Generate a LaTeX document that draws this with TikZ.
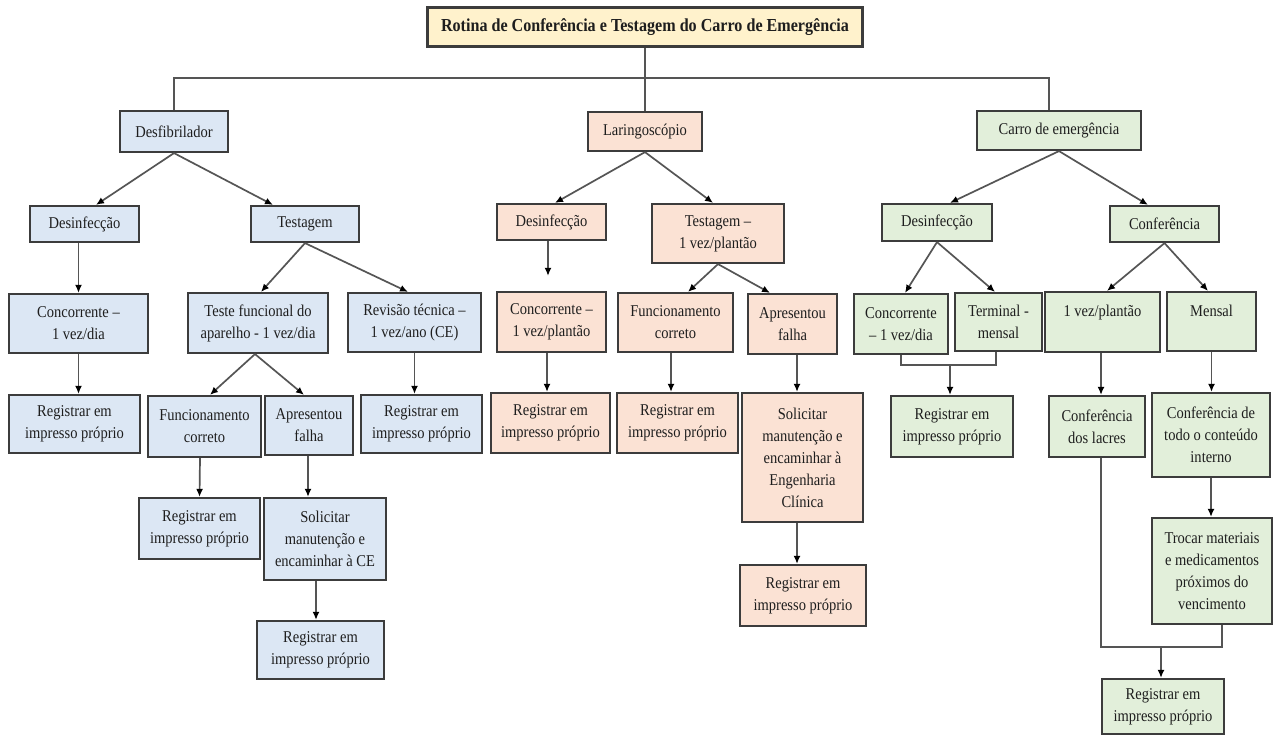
\documentclass[tikz,border=0pt]{standalone}
\usepackage{fontspec}
\setmainfont{Liberation Serif}[FakeStretch=0.88]
\usetikzlibrary{arrows.meta}
\definecolor{bluef}{HTML}{DCE7F4}
\definecolor{peachf}{HTML}{FBE2D4}
\definecolor{greenf}{HTML}{E2EFDA}
\definecolor{titlef}{HTML}{FFF2CC}
\definecolor{edgec}{HTML}{3C3C3C}
\definecolor{lnk}{HTML}{555555}
\definecolor{txt}{HTML}{1E1E1E}
\begin{document}
\begin{tikzpicture}[x=1pt,y=-1pt,
  box/.style={draw=edgec, line width=2.2pt, align=center, inner sep=0pt, text=txt,
    font=\fontsize{16.5}{22}\selectfont},
  bb/.style={box, fill=bluef},
  pp/.style={box, fill=peachf},
  gg/.style={box, fill=greenf},
  wh/.style 2 args={minimum width=#1pt, minimum height=#2pt},
  arr/.style={draw=lnk, line width=1.7pt, -{Latex[length=8pt,width=7pt,color=black]}},
  ln/.style={draw=lnk, line width=1.7pt}]
\fill[white] (0,0) rectangle (1276,735);
\useasboundingbox (0,0) rectangle (1276,735);

% title
\node[box, fill=titlef, wh={435}{39}, font=\fontsize{18.3}{22}\selectfont\bfseries] (title) at (645,27) {Rotina de Conferência e Testagem do Carro de Emergência};

% level 1
\node[bb, wh={108}{41}] (des) at (174,131.5) {Desfibrilador};
\node[pp, wh={114}{39}] (lar) at (645,131.5) {Laringoscópio};
\node[gg, wh={164}{39}] (car) at (1059,130.5) {Carro de emergência};

% level 2
\node[bb, wh={109}{36}] (dDes) at (84.5,224) {Desinfecção};
\node[bb, wh={108}{36}] (dTes) at (305,224) {Testagem};
\node[pp, wh={109}{36}] (lDes) at (551.5,222) {Desinfecção};
\node[pp, wh={132}{59}] (lTes) at (718,233.5) {Testagem –\\1 vez/plantão};
\node[gg, wh={110}{37}] (cDes) at (937,222.5) {Desinfecção};
\node[gg, wh={109}{36}] (cCon) at (1164.5,224) {Conferência};

% level 3
\node[bb, wh={139}{59}] (dConc) at (78.5,323.5) {Concorrente –\\1 vez/dia};
\node[bb, wh={140}{60}] (dTeste) at (258,323) {Teste funcional do\\aparelho - 1 vez/dia};
\node[bb, wh={133}{59}] (dRev) at (414.5,322.5) {Revisão técnica –\\1 vez/ano (CE)};
\node[pp, wh={109}{60}] (lConc) at (551.5,322) {Concorrente –\\1 vez/plantão};
\node[pp, wh={115}{59}] (lFun) at (675.5,322.5) {Funcionamento\\correto};
\node[pp, wh={89}{60}] (lApr) at (792.5,324) {Apresentou\\falha};
\node[gg, wh={94}{60}] (cConc) at (901,324) {Concorrente\\– 1 vez/dia};
\node[gg, wh={87}{58}] (cTer) at (998.5,322) {Terminal -\\mensal};
\node[gg, wh={115}{60}] (c1vez) at (1102.5,322) {1 vez/plantão\\\mbox{}};
\node[gg, wh={89}{59}] (cMen) at (1211.5,321.5) {Mensal\\\mbox{}};

% level 4
\node[bb, wh={131}{58}] (dReg1) at (74.5,424) {Registrar em\\impresso próprio};
\node[bb, wh={113}{61}] (dFun) at (204.5,426.5) {Funcionamento\\correto};
\node[bb, wh={88}{59}] (dApr) at (309,425.5) {Apresentou\\falha};
\node[bb, wh={121}{58}] (dReg2) at (421.5,424) {Registrar em\\impresso próprio};
\node[pp, wh={119}{60}] (lReg1) at (550.5,423) {Registrar em\\impresso próprio};
\node[pp, wh={121}{60}] (lReg2) at (677.5,423) {Registrar em\\impresso próprio};
\node[pp, wh={121}{129}] (lSol) at (802.5,457.5) {Solicitar\\manutenção e\\encaminhar à\\Engenharia\\Clínica};
\node[gg, wh={122}{61}] (cReg1) at (952,426.5) {Registrar em\\impresso próprio};
\node[gg, wh={96}{61}] (cLac) at (1097,426.5) {Conferência\\dos lacres};
\node[gg, wh={118}{84}] (cTodo) at (1211,435) {Conferência de\\todo o conteúdo\\interno};

% level 5+
\node[bb, wh={121}{61}] (dReg3) at (199.5,528.5) {Registrar em\\impresso próprio};
\node[bb, wh={122}{82}] (dSol) at (325,539) {Solicitar\\manutenção e\\encaminhar à CE};
\node[bb, wh={127}{58}] (dReg4) at (320.5,650) {Registrar em\\impresso próprio};
\node[pp, wh={126}{61}] (lReg3) at (803,595.5) {Registrar em\\impresso próprio};
\node[gg, wh={120}{106}] (cTro) at (1212,571) {Trocar materiais\\e medicamentos\\próximos do\\vencimento};
\node[gg, wh={122}{55}] (cReg2) at (1163,706.5) {Registrar em\\impresso próprio};

% trunk
\coordinate (h1) at (645,78);
\coordinate (cj) at (1049,78);
\draw[ln] (title.south) -- (title.south |- lar.north);
\draw[ln] (des.north) -- (des.north |- h1) -- (cj) -- (cj |- car.north);

% level 1 -> 2
\draw[arr] (des.south) -- ([xshift=11.5pt]dDes.north);
\draw[arr] (des.south) -- ([xshift=-32pt]dTes.north);
\draw[arr] (lar.south) -- ([xshift=3.5pt]lDes.north);
\draw[arr] (lar.south) -- ([xshift=-5pt]lTes.north);
\draw[arr] (car.south) -- ([xshift=13pt]cDes.north);
\draw[arr] (car.south) -- ([xshift=-16.5pt]cCon.north);

% level 2 -> 3
\draw[arr] (dDes.south -| dConc.north) -- (dConc.north);
\draw[arr] (dTes.south) -- ([xshift=3pt]dTeste.north);
\draw[arr] (dTes.south) -- ([xshift=-6.5pt]dRev.north);
\draw[arr, shorten >=15pt] ([xshift=-3.5pt]lDes.south) -- ([xshift=-3.5pt]lConc.north);
\draw[arr] (lTes.south) -- ([xshift=12.5pt]lFun.north);
\draw[arr] (lTes.south) -- ([xshift=-22.5pt]lApr.north);
\draw[arr] (cDes.south) -- ([xshift=4pt]cConc.north);
\draw[arr] (cDes.south) -- ([xshift=-3.5pt]cTer.north);
\draw[arr] (cCon.south) -- ([xshift=4.5pt]c1vez.north);
\draw[arr] (cCon.south) -- ([xshift=-3.5pt]cMen.north);

% level 3 -> 4
\draw[arr] (dConc.south) -- ([xshift=4pt]dReg1.north);
\draw[arr] ([xshift=-3pt]dTeste.south) -- ([xshift=5.5pt]dFun.north);
\draw[arr] ([xshift=-3pt]dTeste.south) -- ([xshift=-5pt]dApr.north);
\draw[arr] (dRev.south) -- ([xshift=-7pt]dReg2.north);
\draw[arr] ([xshift=-4.5pt]lConc.south) -- ([xshift=-3.5pt]lReg1.north);
\draw[arr] ([xshift=-4.5pt]lFun.south) -- ([xshift=-6.5pt]lReg2.north);
\draw[arr] ([xshift=4.5pt]lApr.south) -- ([xshift=-5.5pt]lSol.north);
\coordinate (b1) at (950,365);
\draw[ln] (cConc.south) |- (b1) -| ([xshift=-2.5pt]cTer.south);
\draw[arr] (b1) -- ([xshift=-2pt]cReg1.north);
\draw[arr] ([xshift=-1.5pt]c1vez.south) -- ([xshift=4pt]cLac.north);
\draw[arr] (cMen.south) -- ([xshift=0.5pt]cTodo.north);

% level 4 -> 5
\draw[arr] ([xshift=-4.5pt]dFun.south) -- (dReg3.north);
\draw[arr] ([xshift=-1pt]dApr.south) -- ([xshift=-17pt]dSol.north);
\draw[arr] ([xshift=-9pt]dSol.south) -- ([xshift=-4.5pt]dReg4.north);
\draw[arr] ([xshift=-5.5pt]lSol.south) -- ([xshift=-6pt]lReg3.north);
\draw[arr] (cTodo.south) -- ([xshift=-1pt]cTro.north);
\coordinate (b2) at (1161,647);
\draw[ln] ([xshift=4pt]cLac.south) |- (b2) -| ([xshift=10pt]cTro.south);
\draw[arr] (b2) -- ([xshift=-2pt]cReg2.north);
\end{tikzpicture}
\end{document}
